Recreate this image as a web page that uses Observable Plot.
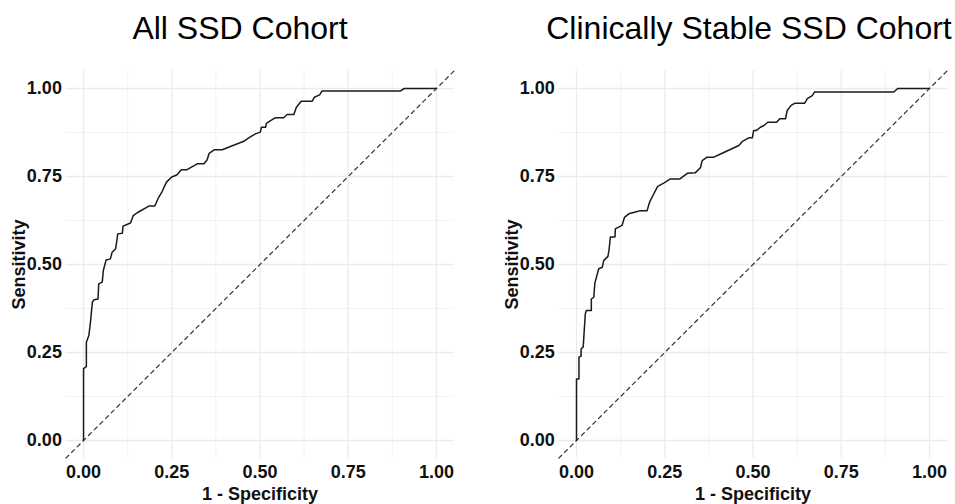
<!DOCTYPE html>
<html>
<head>
<meta charset="utf-8">
<script src="https://cdn.jsdelivr.net/npm/d3@7"></script>
<script src="https://cdn.jsdelivr.net/npm/@observablehq/plot@0.6"></script>
<style>
  html, body { margin: 0; padding: 0; background: #fff; }
  #wrap { position: relative; width: 955px; height: 504px; overflow: hidden; background: #fff;
          font-family: "Liberation Sans", Arial, sans-serif; }
  .title { position: absolute; top: 9px; font-size: 32px; color: #000; white-space: nowrap;
           transform: translateX(-50%); line-height: 38px; }
  .panel { position: absolute; top: 50px; }
</style>
</head>
<body>
<div id="wrap"></div>
<script>
// ---- data ----
const titles = ["All SSD Cohort", "Clinically Stable SSD Cohort"];
const xLabel = "1 - Specificity";
const yLabel = "Sensitivity";
const majorTicks = [0, 0.25, 0.5, 0.75, 1];
const minorTicks = [0.125, 0.375, 0.625, 0.875];
const axisDomain = [-0.05, 1.05];

// All SSD cohort ROC (1 - specificity, sensitivity)
const fprAll = [0, 0, 0.008, 0.008, 0.015, 0.02, 0.025, 0.03, 0.041, 0.043, 0.053, 0.056, 0.064, 0.076, 0.081, 0.091, 0.097, 0.11, 0.112, 0.133, 0.141, 0.152, 0.185, 0.202, 0.213, 0.223, 0.235, 0.249, 0.265, 0.277, 0.292, 0.322, 0.341, 0.35, 0.356, 0.371, 0.393, 0.454, 0.468, 0.487, 0.501, 0.504, 0.516, 0.518, 0.53, 0.544, 0.567, 0.577, 0.596, 0.603, 0.617, 0.648, 0.654, 0.669, 0.676, 0.898, 0.909, 1];
const tprAll = [0, 0.204, 0.21, 0.279, 0.298, 0.34, 0.393, 0.40, 0.402, 0.445, 0.45, 0.483, 0.513, 0.516, 0.535, 0.545, 0.587, 0.589, 0.609, 0.618, 0.639, 0.647, 0.666, 0.666, 0.691, 0.708, 0.734, 0.748, 0.755, 0.769, 0.769, 0.786, 0.786, 0.797, 0.816, 0.826, 0.826, 0.85, 0.86, 0.871, 0.876, 0.89, 0.89, 0.901, 0.909, 0.917, 0.917, 0.926, 0.926, 0.947, 0.964, 0.964, 0.975, 0.982, 0.993, 0.993, 1, 1];

// Clinically stable SSD cohort ROC
const fprStable = [0, 0, 0.007, 0.007, 0.013, 0.013, 0.019, 0.021, 0.025, 0.028, 0.042, 0.042, 0.049, 0.052, 0.063, 0.073, 0.077, 0.089, 0.092, 0.096, 0.109, 0.11, 0.129, 0.136, 0.148, 0.167, 0.181, 0.2, 0.207, 0.219, 0.23, 0.247, 0.266, 0.293, 0.314, 0.337, 0.351, 0.356, 0.37, 0.389, 0.408, 0.46, 0.469, 0.488, 0.498, 0.502, 0.51, 0.521, 0.531, 0.542, 0.567, 0.576, 0.592, 0.597, 0.608, 0.618, 0.646, 0.654, 0.668, 0.674, 0.899, 0.91, 1];
const tprStable = [0, 0.175, 0.175, 0.237, 0.24, 0.26, 0.266, 0.298, 0.36, 0.369, 0.369, 0.402, 0.407, 0.447, 0.488, 0.492, 0.511, 0.523, 0.54, 0.578, 0.578, 0.601, 0.611, 0.634, 0.644, 0.649, 0.653, 0.653, 0.677, 0.701, 0.722, 0.731, 0.743, 0.743, 0.759, 0.761, 0.775, 0.795, 0.805, 0.805, 0.814, 0.838, 0.849, 0.86, 0.86, 0.881, 0.881, 0.89, 0.895, 0.904, 0.904, 0.914, 0.914, 0.9375, 0.952, 0.958, 0.958, 0.971, 0.98, 0.99, 0.99, 1, 1];

// ---- drawing ----
const fmt = d3.format(".2f");
const wrap = document.getElementById("wrap");

function makePanel(fpr, tpr, opts) {
  const rows = fpr.map((x, i) => ({x, y: tpr[i]}));
  const diag = axisDomain.map(v => ({x: v, y: v}));
  return Plot.plot({
    width: opts.width,
    height: 454,
    marginLeft: opts.marginLeft,
    marginRight: opts.marginRight,
    marginTop: 20.4,
    marginBottom: 46.4,
    style: {fontFamily: '"Liberation Sans", Arial, sans-serif', fontSize: "18px", fontWeight: "bold",
            color: "#111", background: "white", overflow: "visible"},
    x: {domain: axisDomain},
    y: {domain: axisDomain},
    marks: [
      Plot.gridX(minorTicks, {stroke: "#f3f3f3", strokeOpacity: 1, strokeWidth: 1}),
      Plot.gridY(minorTicks, {stroke: "#f3f3f3", strokeOpacity: 1, strokeWidth: 1}),
      Plot.gridX(majorTicks, {stroke: "#ebebeb", strokeOpacity: 1, strokeWidth: 1.3}),
      Plot.gridY(majorTicks, {stroke: "#ebebeb", strokeOpacity: 1, strokeWidth: 1.3}),
      Plot.axisX(majorTicks, {tickSize: 0, tickPadding: 7, tickFormat: fmt, label: xLabel,
        labelAnchor: "center", labelArrow: "none", labelOffset: 42}),
      Plot.axisY(majorTicks, {tickSize: 0, tickPadding: 4, tickFormat: fmt, label: yLabel,
        labelAnchor: "center", labelArrow: "none", labelOffset: opts.yLabelOffset}),
      Plot.line(diag, {x: "x", y: "y", stroke: "#333", strokeWidth: 1.2, strokeDasharray: "4,4"}),
      Plot.line(rows, {x: "x", y: "y", stroke: "#1a1a1a", strokeWidth: 1.5})
    ]
  });
}

const panels = [
  {fpr: fprAll, tpr: tprAll, left: 0, width: 477, marginLeft: 65.4, marginRight: 23.4, yLabelOffset: 54, titleX: 240},
  {fpr: fprStable, tpr: tprStable, left: 477, width: 478, marginLeft: 81.35, marginRight: 8.35, yLabelOffset: 54, titleX: 749}
];

panels.forEach((p, i) => {
  const t = document.createElement("div");
  t.className = "title";
  t.style.left = p.titleX + "px";
  t.textContent = titles[i];
  wrap.appendChild(t);
  const holder = document.createElement("div");
  holder.className = "panel";
  holder.style.left = p.left + "px";
  holder.appendChild(makePanel(p.fpr, p.tpr, p));
  wrap.appendChild(holder);
});
</script>
</body>
</html>
